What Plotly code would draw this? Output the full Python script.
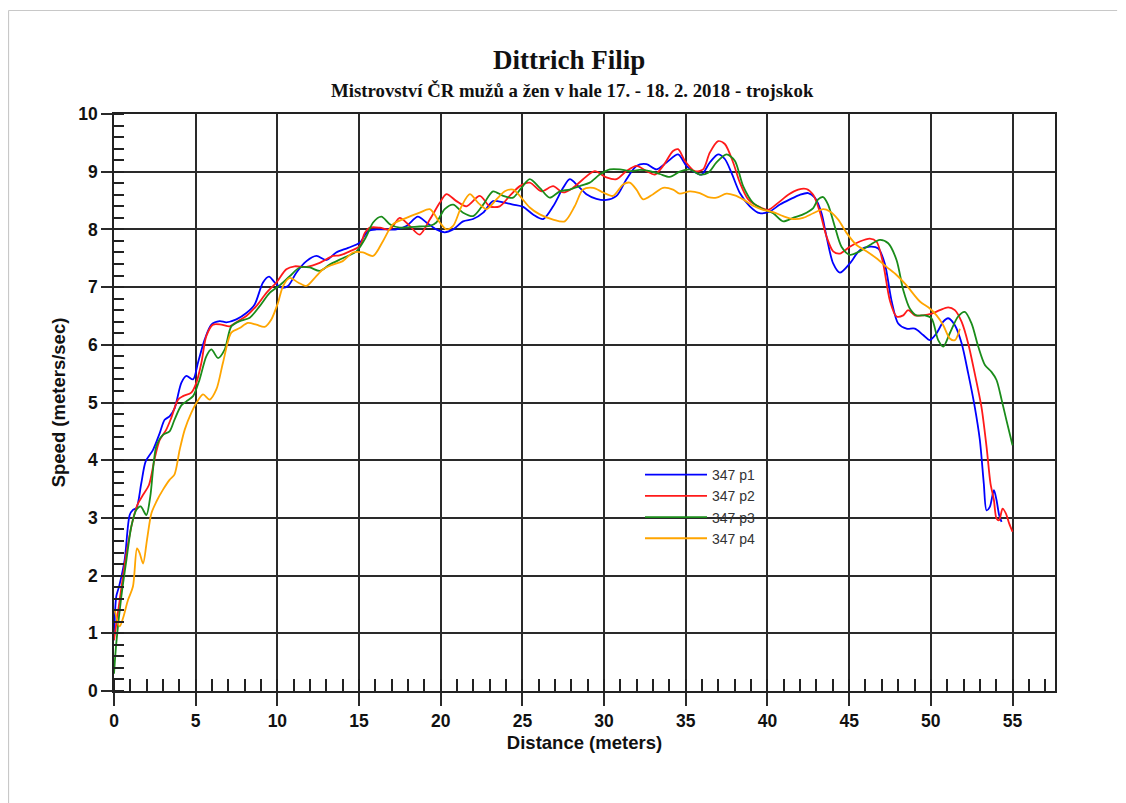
import plotly.graph_objects as go

# ---------------- data ----------------
p1_x = [0.0, 0.14, 0.3, 0.65, 0.96, 1.16, 1.37, 1.67, 1.94, 2.39, 2.8, 3.1, 3.4, 3.71, 4.12, 4.43, 4.84, 5.14, 5.55, 5.96,
        6.47, 6.88, 7.49, 8.1, 8.61, 9.12, 9.49, 9.84, 10.24, 10.65, 11.16, 11.78, 12.39, 13.0, 13.6, 14.33, 15.04, 15.55,
        16.06, 16.67, 17.29, 17.9, 18.6, 19.12, 19.73, 20.24, 20.76, 21.37, 21.98, 22.6, 23.2, 23.82, 24.43, 25.04, 25.65,
        26.27, 26.88, 27.49, 27.9, 28.41, 28.92, 29.53, 30.14, 30.76, 31.37, 31.98, 32.6, 33.2, 33.82, 34.53, 35.04, 35.45,
        35.96, 36.47, 36.98, 37.39, 37.8, 38.31, 38.92, 39.53, 40.14, 40.76, 41.37, 41.98, 42.49, 42.9, 43.31, 43.61, 44.02,
        44.43, 45.04, 45.65, 46.27, 46.78, 47.18, 47.59, 48.0, 48.51, 49.02, 49.53, 49.94, 50.35, 50.76, 51.06, 51.47, 51.88,
        52.29, 52.69, 53.0, 53.24, 53.41, 53.61, 53.86, 54.02, 54.18, 54.33]
p1_y = [0.88, 1.64, 1.8, 2.27, 3.05, 3.14, 3.17, 3.6, 3.98, 4.18, 4.47, 4.7, 4.76, 4.9, 5.34, 5.46, 5.4, 5.69, 6.09, 6.35,
        6.41, 6.39, 6.44, 6.55, 6.7, 7.08, 7.18, 7.08, 6.99, 7.02, 7.25, 7.45, 7.54, 7.47, 7.6, 7.68, 7.77, 7.97,
        8.0, 8.0, 8.0, 8.06, 8.22, 8.12, 8.0, 7.95, 8.0, 8.14, 8.18, 8.29, 8.49, 8.47, 8.43, 8.39, 8.26,
        8.18, 8.4, 8.72, 8.87, 8.75, 8.61, 8.53, 8.51, 8.58, 8.87, 9.1, 9.13, 9.04, 9.16, 9.3, 9.1, 9.01,
        8.95, 9.16, 9.3, 9.22, 8.98, 8.63, 8.4, 8.28, 8.31, 8.43, 8.52, 8.6, 8.63, 8.55, 8.28, 7.88, 7.41,
        7.25, 7.41, 7.64, 7.7, 7.67, 7.41, 6.77, 6.37, 6.28, 6.28, 6.17, 6.08, 6.2, 6.4, 6.46, 6.34, 6.03,
        5.5, 4.92, 4.35, 3.6, 3.13, 3.19, 3.48, 3.31, 3.05, 2.93]

p2_x = [0.0, 0.35, 0.76, 1.16, 1.47, 1.78, 2.14, 2.49, 2.8, 3.2, 3.5, 3.92, 4.22, 4.73, 5.04, 5.35, 5.65, 6.06, 6.57, 7.08,
        7.59, 8.1, 8.71, 9.33, 9.94, 10.55, 11.06, 11.78, 12.59, 13.4, 13.8, 14.43, 15.04, 15.35, 15.65, 16.27, 16.88,
        17.49, 18.0, 18.71, 19.33, 19.94, 20.35, 20.96, 21.57, 22.39, 23.0, 23.61, 24.22, 24.84, 25.45, 26.16, 26.88,
        27.49, 28.1, 28.71, 29.43, 30.14, 30.76, 31.37, 31.98, 32.6, 33.1, 33.61, 34.22, 34.53, 34.94, 35.55, 36.06,
        36.47, 36.98, 37.39, 37.9, 38.31, 38.82, 39.43, 40.04, 40.65, 41.27, 41.88, 42.39, 42.8, 43.2, 43.61, 44.02,
        44.43, 45.04, 45.65, 46.27, 46.67, 47.08, 47.49, 47.9, 48.31, 48.61, 49.02, 49.53, 50.06, 50.55, 51.06, 51.47,
        51.88, 52.29, 52.69, 53.1, 53.41, 53.65, 53.86, 54.02, 54.18, 54.39, 54.59, 54.8, 55.0]
p2_y = [0.88, 1.58, 2.39, 2.97, 3.25, 3.4, 3.57, 4.03, 4.35, 4.53, 4.73, 5.05, 5.11, 5.17, 5.34, 5.69, 6.15, 6.35, 6.35, 6.32,
        6.41, 6.5, 6.67, 6.9, 7.08, 7.31, 7.36, 7.35, 7.42, 7.54, 7.55, 7.62, 7.71, 7.94, 8.03, 8.03, 8.0,
        8.2, 8.09, 7.91, 8.17, 8.46, 8.61, 8.49, 8.4, 8.58, 8.4, 8.4, 8.58, 8.75, 8.81, 8.66, 8.75,
        8.64, 8.72, 8.87, 9.01, 8.9, 8.87, 9.01, 9.1, 9.01, 8.95, 9.1, 9.36, 9.39, 9.19, 9.01, 9.04,
        9.33, 9.53, 9.48, 9.16, 8.81, 8.52, 8.4, 8.34, 8.46, 8.6, 8.69, 8.7, 8.6, 8.31, 7.88, 7.62,
        7.58, 7.7, 7.79, 7.84, 7.79, 7.41, 6.77, 6.49, 6.51, 6.6, 6.51, 6.51, 6.54, 6.6, 6.65, 6.6,
        6.4, 6.02, 5.5, 4.92, 4.23, 3.6, 3.31, 2.99, 2.96, 3.16, 3.08, 2.9, 2.76]

p3_x = [0.0, 0.14, 0.45, 0.76, 1.06, 1.37, 1.63, 1.98, 2.22, 2.59, 3.0, 3.4, 3.7, 4.12, 4.43, 4.84, 5.24, 5.65, 5.96, 6.37,
        6.78, 7.18, 7.69, 8.31, 8.92, 9.53, 10.14, 10.76, 11.37, 11.98, 12.59, 13.2, 14.0, 14.84, 15.45, 15.86, 16.37,
        16.88, 17.49, 18.1, 18.71, 19.33, 19.73, 20.24, 20.76, 21.37, 21.98, 22.6, 23.2, 23.82, 24.43, 24.94, 25.45,
        26.06, 26.67, 27.29, 27.9, 28.51, 29.12, 29.73, 30.35, 30.96, 31.57, 32.18, 32.8, 33.41, 34.02, 34.63, 35.24,
        35.86, 36.37, 36.88, 37.49, 38.0, 38.51, 39.12, 39.73, 40.35, 40.96, 41.57, 42.18, 42.8, 43.1, 43.41, 43.71,
        44.12, 44.53, 45.04, 45.65, 46.27, 46.88, 47.39, 47.9, 48.31, 48.71, 49.12, 49.63, 50.04, 50.45, 50.76, 51.16,
        51.67, 52.08, 52.49, 52.9, 53.31, 53.71, 54.02, 54.33, 54.63, 55.0]
p3_y = [0.3, 0.83, 1.64, 2.27, 2.85, 3.14, 3.2, 3.05, 3.37, 4.24, 4.44, 4.5, 4.7, 4.95, 5.02, 5.11, 5.4, 5.8, 5.92, 5.77,
        5.92, 6.32, 6.41, 6.47, 6.67, 6.9, 7.03, 7.19, 7.34, 7.34, 7.28, 7.39, 7.5, 7.62, 7.88, 8.12, 8.22,
        8.09, 8.03, 8.04, 8.05, 8.06, 8.12, 8.35, 8.43, 8.29, 8.23, 8.43, 8.66, 8.58, 8.55, 8.72, 8.87,
        8.72, 8.55, 8.66, 8.69, 8.75, 8.81, 8.95, 9.04, 9.04, 9.01, 9.03, 9.01, 8.96, 8.91, 9.0, 9.04,
        8.95, 8.98, 9.16, 9.3, 9.19, 8.75, 8.46, 8.35, 8.28, 8.14, 8.2, 8.26, 8.37, 8.52, 8.56, 8.43,
        8.05, 7.7, 7.56, 7.62, 7.73, 7.82, 7.76, 7.47, 6.95, 6.63, 6.51, 6.51, 6.46, 6.08, 5.97, 6.2,
        6.49, 6.57, 6.37, 5.97, 5.65, 5.53, 5.39, 5.05, 4.69, 4.26]

p4_x = [0.05, 0.35, 0.55, 0.86, 1.16, 1.41, 1.57, 1.78, 2.02, 2.29, 2.59, 3.0, 3.4, 3.7, 4.02, 4.33, 4.73, 5.04, 5.45, 5.86,
        6.27, 6.67, 7.18, 7.69, 8.2, 8.71, 9.22, 9.63, 10.04, 10.35, 10.76, 11.27, 11.78, 12.29, 12.8, 13.4, 14.0,
        14.63, 15.24, 15.86, 16.47, 17.08, 17.9, 18.71, 19.33, 19.94, 20.35, 20.76, 21.27, 21.78, 22.29, 22.8, 23.41,
        23.92, 24.43, 24.84, 25.45, 26.06, 26.88, 27.59, 28.2, 28.71, 29.33, 29.94, 30.55, 31.16, 31.57, 31.98, 32.39,
        33.0, 33.61, 34.22, 34.63, 35.24, 35.86, 36.37, 36.88, 37.49, 38.0, 38.51, 39.12, 39.73, 40.35, 40.96, 41.57,
        42.18, 42.8, 43.41, 43.82, 44.33, 44.84, 45.45, 46.06, 46.67, 47.29, 47.9, 48.51, 49.33, 49.94, 50.35, 50.76,
        51.16, 51.47, 51.78]
p4_y = [1.4, 1.12, 1.26, 1.58, 1.81, 2.47, 2.39, 2.21, 2.62, 3.08, 3.28, 3.49, 3.66, 3.75, 4.18, 4.53, 4.82, 4.99, 5.14, 5.05,
        5.23, 5.69, 6.21, 6.29, 6.38, 6.35, 6.31, 6.44, 6.73, 7.02, 7.16, 7.08, 7.02, 7.16, 7.31, 7.39, 7.45,
        7.6, 7.6, 7.54, 7.8, 8.09, 8.2, 8.29, 8.35, 8.12, 8.0, 8.06, 8.4, 8.61, 8.46, 8.35, 8.52,
        8.66, 8.69, 8.58, 8.38, 8.26, 8.17, 8.14, 8.4, 8.69, 8.72, 8.64, 8.58, 8.78, 8.81, 8.69, 8.52,
        8.61, 8.72, 8.69, 8.62, 8.66, 8.63, 8.56, 8.55, 8.62, 8.59, 8.52, 8.41, 8.34, 8.3, 8.23, 8.18,
        8.2, 8.28, 8.35, 8.31, 8.17, 7.94, 7.73, 7.62, 7.5, 7.35, 7.21, 7.03, 6.75, 6.63, 6.51, 6.34,
        6.11, 6.08, 6.28]

series_names = ["347 p1", "347 p2", "347 p3", "347 p4"]
series_colors = ["#0000FF", "#FF1A1A", "#1A8C1A", "#FFA500"]
series_x = [p1_x, p2_x, p3_x, p4_x]
series_y = [p1_y, p2_y, p3_y, p4_y]

title_text = "Dittrich Filip"
subtitle_text = "Mistrovství ČR mužů a žen v hale 17. - 18. 2. 2018 - trojskok"
x_title = "Distance (meters)"
y_title = "Speed (meters/sec)"
x_ticks = [0, 5, 10, 15, 20, 25, 30, 35, 40, 45, 50, 55]
y_ticks = [0, 1, 2, 3, 4, 5, 6, 7, 8, 9, 10]

# ---------------- figure ----------------
fig = go.Figure()
for name, col, xs, ys in zip(series_names, series_colors, series_x, series_y):
    fig.add_trace(go.Scatter(
        x=xs, y=ys, mode="lines", name=name,
        line=dict(color=col, width=1.8, shape="spline", smoothing=0.8),
    ))

tick_font = dict(family="Liberation Sans, Arial, sans-serif", size=17.5, color="#111", weight="bold")
grid_col = "#2a2a2a"
PW, PH = 941.0, 577.0  # plot area size in px (for paper offsets)

fig.update_layout(
    width=1118, height=795,
    margin=dict(l=106, r=71, t=106, b=112),
    paper_bgcolor="white", plot_bgcolor="white",
    showlegend=True,
    legend=dict(
        x=(640 - 114) / PW, y=0.402, xanchor="left", yanchor="top",
        bgcolor="rgba(0,0,0,0)", borderwidth=0,
        font=dict(family="Liberation Sans, Arial, sans-serif", size=14, color="#333"),
        tracegroupgap=0, itemwidth=62,
    ),
    annotations=[
        dict(text=f"<b>{title_text}</b>", xref="paper", yref="paper", x=0.483, y=1.0 + (114 - 60) / PH,
             xanchor="center", yanchor="middle", showarrow=False,
             font=dict(family="Liberation Serif, Times New Roman, serif", size=27, color="#111")),
        dict(text=f"<b>{subtitle_text}</b>", xref="paper", yref="paper", x=0.487, y=1.0 + (114 - 91) / PH,
             xanchor="center", yanchor="middle", showarrow=False,
             font=dict(family="Liberation Serif, Times New Roman, serif", size=18.8, color="#111")),
    ],
    shapes=[
        dict(type="line", xref="paper", yref="paper", x0=-0.1121, x1=1.066, y0=1.1794, y1=1.1794,
             line=dict(color="#c8c8c8", width=1.2)),
        dict(type="line", xref="paper", yref="paper", x0=-0.1121, x1=-0.1121, y0=1.1794, y1=-0.25,
             line=dict(color="#c8c8c8", width=1.2)),
    ],
)

fig.update_xaxes(
    range=[0, 57.6], tickvals=x_ticks, ticktext=[str(v) for v in x_ticks],
    showgrid=True, gridcolor=grid_col, gridwidth=1.5,
    ticks="outside", ticklen=13, tickwidth=1.5, tickcolor=grid_col,
    minor=dict(dtick=1, tick0=0, ticks="inside", ticklen=12, tickwidth=1.5, tickcolor="#222", showgrid=False),
    showline=True, linecolor="#222", linewidth=1.5, mirror=True,
    zeroline=False, tickfont=tick_font,
    title=dict(text=f"<b>{x_title}</b>", standoff=6,
               font=dict(family="Liberation Sans, Arial, sans-serif", size=18.5, color="#111")),
)
fig.update_yaxes(
    range=[0, 10], tickvals=y_ticks, ticktext=[str(v) for v in y_ticks],
    showgrid=True, gridcolor=grid_col, gridwidth=1.8,
    ticks="outside", ticklen=11, tickwidth=1.8, tickcolor=grid_col,
    minor=dict(dtick=0.2, tick0=0, ticks="inside", ticklen=10, tickwidth=1.5, tickcolor="#222", showgrid=False),
    showline=True, linecolor="#222", linewidth=1.5, mirror=True,
    zeroline=False, tickfont=tick_font,
    title=dict(text=f"<b>{y_title}</b>", standoff=8,
               font=dict(family="Liberation Sans, Arial, sans-serif", size=18.5, color="#111")),
)

fig.write_html("out.html")
